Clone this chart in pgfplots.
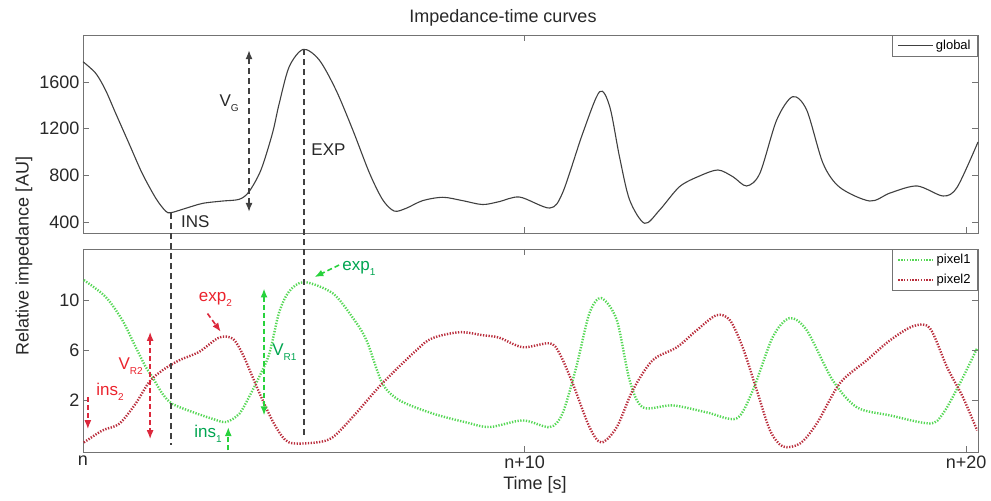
\documentclass[border=0pt]{standalone}
\usepackage{fontspec}
\setmainfont{Liberation Sans}
\usepackage{pgfplots}
\pgfplotsset{compat=1.18}
\usetikzlibrary{arrows.meta}
\definecolor{gcurve}{RGB}{85,215,85}
\definecolor{rcurve}{RGB}{185,45,60}
\definecolor{gtext}{RGB}{0,165,80}
\definecolor{rtext}{RGB}{235,35,45}
\definecolor{garrow}{RGB}{40,210,60}
\definecolor{rarrow}{RGB}{220,40,60}
\definecolor{axgray}{RGB}{115,115,115}
\definecolor{txt}{RGB}{40,40,40}
\newcommand\sub[1]{\raisebox{-0.3em}{\fontsize{10bp}{10bp}\selectfont #1}}
\tikzset{
  dotline/.style={line width=2.4bp, dash pattern=on 1.3bp off 1.5bp, smooth},
  vdash/.style={black!75, line width=1.7bp, dash pattern=on 6bp off 4bp},
  ann/.style={font=\fontsize{17bp}{19bp}\selectfont, inner sep=0pt},
  arr/.style={line width=1.6bp, dash pattern=on 5bp off 3bp},
}
\pgfplotsset{
  myax/.style={
    scale only axis, width=895bp, xmin=0, xmax=20.27,
    axis line style={axgray, line width=0.9bp},
    tick style={axgray, line width=0.8bp}, major tick length=6bp,
    tick align=inside,
    xtick={0,10,20},
    tick label style={font=\fontsize{18bp}{20bp}\selectfont, text=txt},
    /pgf/number format/assume math mode=true,
    /pgf/number format/1000 sep={},
    legend cell align=left,
    legend style={at={(1,1)}, anchor=north east, draw=axgray, line width=0.8bp,
      font=\fontsize{13bp}{15bp}\selectfont, inner xsep=5bp, inner ysep=3bp,
      row sep=5bp},
    legend image code/.code={\draw[##1] (0bp,0bp) -- (35bp,0bp);},
    clip=false,
  },
}
\begin{document}
\begin{tikzpicture}
\path[use as bounding box] (0,0) rectangle (991bp,501bp);
\node[font=\fontsize{18bp}{20bp}\selectfont, text=txt] at (503bp,483bp) {Impedance-time curves};
\node[font=\fontsize{18bp}{20bp}\selectfont, text=txt, rotate=90] at (24bp,245bp) {Relative impedance [AU]};
\node[font=\fontsize{18bp}{20bp}\selectfont, text=txt] at (535bp,16bp) {Time [s]};

\begin{axis}[myax, at={(83bp,268bp)}, anchor=south west, height=198bp,
  ymin=306, ymax=2003, ytick={400,800,1200,1600}, xticklabels={}]
\addplot[black!75, line width=1.1bp, smooth] coordinates {
(0,1774) (0.29,1674) (0.51,1531) (0.74,1332) (1.04,1075) (1.34,818) (1.65,603)
(1.87,494) (1.99,480) (2.33,518) (2.71,560) (3.16,580) (3.54,595) (3.76,660)
(4.03,846) (4.29,1160) (4.44,1410) (4.67,1731) (4.99,1880) (5.35,1789) (5.73,1531)
(6.11,1189) (6.49,818) (6.79,589) (7.05,494) (7.32,518) (7.69,583) (8.15,612)
(8.6,583) (9.05,550) (9.43,575) (9.89,614) (10.57,520) (10.86,649) (11.32,1163)
(11.7,1517) (11.93,1388) (12.15,960) (12.38,589) (12.72,389) (13.06,503)
(13.51,703) (13.96,794) (14.38,846) (14.72,788) (15.03,709) (15.33,818)
(15.71,1274) (16.07,1474) (16.39,1360) (16.76,903) (17.14,697) (17.82,580)
(18.28,649) (18.89,709) (19.48,623) (19.8,700) (20.27,1086)
};
\addlegendentry{global}
\draw[vdash, {Latex[length=9bp,width=7bp]}-{Latex[length=9bp,width=7bp]}] (axis cs:3.76,1874) -- (axis cs:3.76,486);
\node[ann, text=txt] at (axis cs:3.31,1420) {V\sub{G}};
\node[ann, text=txt, anchor=west] at (axis cs:2.22,400) {INS};
\node[ann, text=txt, anchor=west] at (axis cs:5.17,1017) {EXP};
\end{axis}

\begin{axis}[myax, at={(83bp,49bp)}, anchor=south west, height=203bp,
  ymin=-2.12, ymax=14.08, ytick={2,6,10}, xticklabels={n,n+10,n+20}]
\addplot[gcurve, dotline] coordinates {
(0.02,11.6) (0.51,10.27) (0.89,8.4) (1.19,6.27) (1.42,4.67) (1.57,3.87) (1.8,2.53)
(2.02,1.73) (2.48,1.07) (2.93,0.53) (3.24,0.27) (3.54,0.93) (3.76,2.27) (3.99,3.87)
(4.22,5.73) (4.44,9.0) (4.67,10.7) (5.01,11.44)
(5.65,10.56) (6.1,8.64) (6.42,6.8) (6.78,3.36) (7.17,2.0) (7.91,0.96) (8.68,0.24)
(9.21,-0.13) (9.96,0.4) (10.57,-0.13) (10.86,0.96) (11.17,4.64) (11.47,8.96)
(11.74,10.16) (12.09,8.4) (12.38,3.6) (12.68,1.44) (13.36,1.6) (14.13,1.04)
(14.8,0.56) (15.17,2.8) (15.62,7.04) (16.0,8.56) (16.39,7.6) (16.98,3.6)
(17.53,1.44) (18.28,0.8) (19.18,0.16) (19.48,0.96) (19.86,3.36) (20.25,6.16)
};
\addlegendentry{pixel1}
\addplot[rcurve, dotline] coordinates {
(0.02,-1.36) (0.44,-0.4) (0.82,0.13) (1.19,1.73) (1.5,3.47) (1.8,4.4) (2.18,5.2)
(2.63,5.87) (3.08,7.01) (3.39,6.93) (3.61,5.73) (3.84,3.87) (4.07,2.0) (4.37,-0.13)
(4.67,-1.36)
(5.28,-1.36) (5.65,-0.96) (6.1,0.64) (6.78,3.36) (7.55,6.0) (7.91,6.96) (8.53,7.44)
(9.05,7.2) (9.43,7.0) (9.96,6.24) (10.57,6.56) (10.79,5.76) (11.09,3.36)
(11.47,-0.13) (11.74,-1.36) (12.09,-0.13) (12.45,2.8) (12.9,5.2) (13.45,6.24)
(13.9,7.6) (14.35,8.8) (14.65,8.4) (14.94,6.24) (15.26,2.8) (15.56,-0.4)
(15.85,-1.68) (16.24,-1.44) (16.62,0.16) (17.14,3.36) (17.75,5.2) (18.28,6.8)
(18.8,7.92) (19.18,7.76) (19.57,4.64) (19.93,2.24) (20.25,-0.4)
};
\addlegendentry{pixel2}
% dashed guide lines continuing from the top panel (INS minimum, EXP peak)
\draw[vdash] (axis cs:1.99,16.95) -- (axis cs:1.99,-1.6);
\draw[vdash] (axis cs:5.0,30.04) -- (axis cs:5.0,-1.04);
% red annotations
\draw[rarrow, arr, -{Latex[length=9bp,width=7bp]}] (axis cs:0.11,2.27) -- (axis cs:0.11,-0.3);
\node[ann, text=rtext] at (axis cs:0.61,2.67) {ins\sub{2}};
\draw[rarrow, arr, {Latex[length=9bp,width=7bp]}-{Latex[length=9bp,width=7bp]}] (axis cs:1.52,7.47) -- (axis cs:1.52,-1.1);
\node[ann, text=rtext] at (axis cs:1.08,4.72) {V\sub{R2}};
\node[ann, text=rtext] at (axis cs:3.0,10.05) {exp\sub{2}};
\draw[rarrow, arr, -{Latex[length=9bp,width=7bp]}] (axis cs:2.82,8.93) -- (axis cs:3.12,7.47);
% green annotations
\node[ann, text=gtext] at (axis cs:2.83,-0.7) {ins\sub{1}};
\draw[garrow, arr, -{Latex[length=9bp,width=7bp]}] (axis cs:3.29,-2.0) -- (axis cs:3.29,-0.13);
\draw[garrow, arr, {Latex[length=9bp,width=7bp]}-{Latex[length=9bp,width=7bp]}] (axis cs:4.1,10.93) -- (axis cs:4.1,0.8);
\node[ann, text=gtext] at (axis cs:4.56,5.84) {V\sub{R1}};
\node[ann, text=gtext] at (axis cs:6.25,12.56) {exp\sub{1}};
\draw[garrow, arr, -{Latex[length=9bp,width=7bp]}] (axis cs:5.8,12.8) -- (axis cs:5.24,11.84);
\end{axis}
\end{tikzpicture}
\end{document}
